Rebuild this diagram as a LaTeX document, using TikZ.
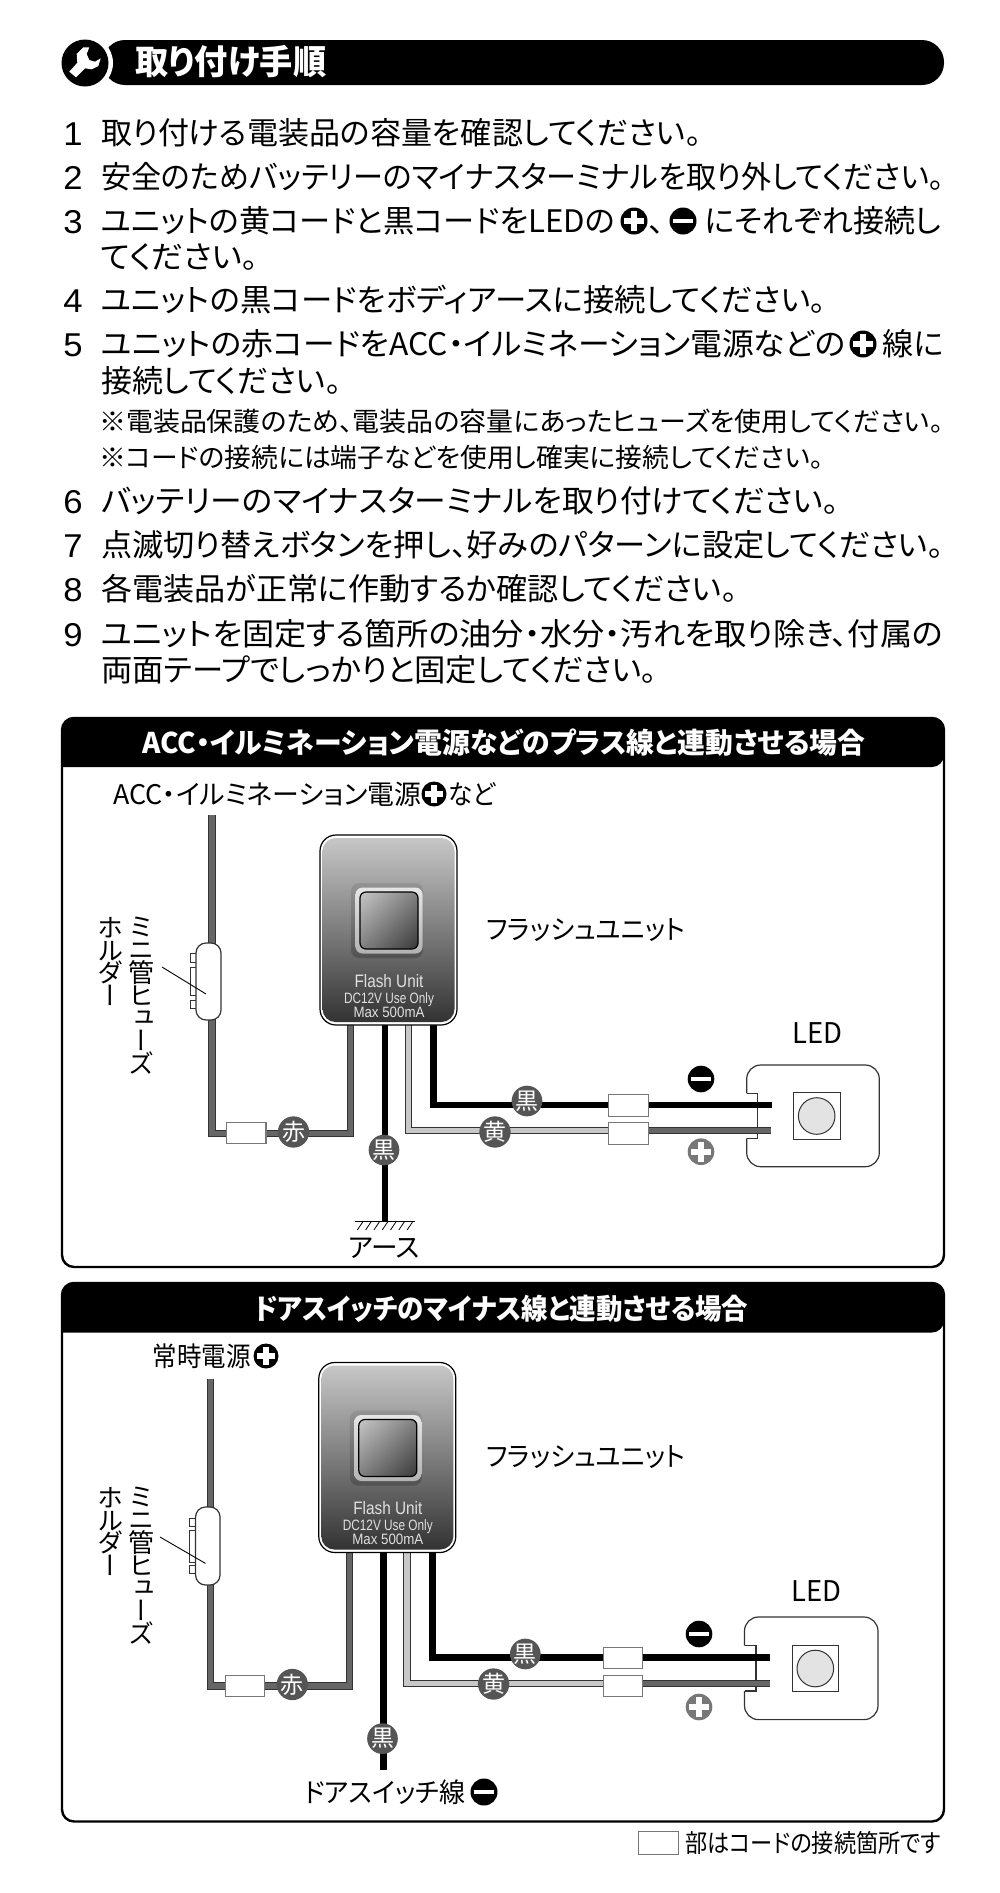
\documentclass[tikz,border=0pt]{standalone}
\usepackage{fontspec}
\usepackage{graphicx}
\usetikzlibrary{shadings}
\setmainfont{Liberation Sans}
\newfontfamily\jp[RawFeature={+palt}]{Noto Sans CJK JP}
\newfontfamily\jpnum{Noto Sans CJK JP}
\newfontfamily\jpv[RawFeature={+vert}]{Noto Sans CJK JP}
\newfontfamily\lat{Liberation Sans}
\definecolor{wiredark}{HTML}{333333}
\definecolor{wiregray}{HTML}{666666}
\definecolor{wirelight}{HTML}{C8C8C8}
\definecolor{tagc}{HTML}{555555}
\definecolor{plusc}{HTML}{777777}
\tikzset{
  txt/.style={inner sep=0pt,anchor=base west,text=black},
  wirered/.style={line width=1pt,draw=wiredark,double=wiregray,double distance=5.6pt},
  wireyel/.style={line width=1pt,draw=wiredark,double=wirelight,double distance=5.6pt},
  wireblk/.style={line width=6.8pt,draw=black},
  joint/.style={draw=plusc,line width=1.2pt,fill=white,inner sep=0pt,minimum width=39.5pt,minimum height=21.5pt},
  tag/.style={circle,fill=tagc,inner sep=0pt,minimum size=30pt,text=white,font=\jpnum\fontsize{23pt}{23pt}\selectfont},
  fuseb/.style={draw=wiredark,line width=1.2pt,fill=white,rounded corners=10pt,inner sep=0pt,minimum width=25pt,minimum height=77pt},
  fusep/.style={draw=wiredark,line width=.8pt,fill=white},
  board/.style={draw=wiredark,line width=1.2pt,fill=white},
  vtxt/.style={inner sep=0pt,anchor=north,align=center,font=\jpv\fontsize{26pt}{22.8pt}\selectfont},
  panel/.style={draw=black,line width=2.4pt,fill=white,rounded corners=12pt},
}
% [style]{name}{left x}{centre y}{width}{size}{text}
\newcommand\lbl[7][]{\node[txt,#1] (#2) at (#3,{#4+0.38*#6}) {\resizebox{#5pt}{\height}{\fontsize{#6pt}{#6pt}\selectfont\jp #7}};}
\newcommand\stepnum[2]{\node[inner sep=0pt,anchor=base] (n#1) at (73,{#2+12}) {\scalebox{1.05}[1]{\fontsize{33pt}{33pt}\selectfont\lat #1}};}
\newcommand\sgnplus[5][black]{%
  \node[circle,fill=#1,inner sep=0pt,minimum size={2*#5*1pt}] (#2) at (#3,#4) {};
  \draw[white,line width={.46*#5*1pt}] ({#3-.74*#5},#4) -- ({#3+.74*#5},#4);
  \draw[white,line width={.46*#5*1pt}] (#3,{#4-.74*#5}) -- (#3,{#4+.74*#5});}
\newcommand\sgnminus[4]{%
  \node[circle,fill=black,inner sep=0pt,minimum size={2*#4*1pt}] (#1) at (#2,#3) {};
  \draw[white,line width={.36*#4*1pt}] ({#2-.74*#4},#3) -- ({#2+.74*#4},#3);}
% flash unit drawn at panel-1 position; {prefix}
\newcommand\flashunit[1]{%
  \draw[draw=black,line width=1.2pt,fill=white,rounded corners=16pt] (320,835) rectangle (457,1025);
  \shade[top color=black!22,bottom color=black!80,rounded corners=13pt] (322.5,838) rectangle (454.5,1022);
  \shade[top color=black!42,bottom color=black!68,rounded corners=8pt] (351,883) rectangle (423,958);
  \shade[top color=black!10,bottom color=black!30,rounded corners=7pt] (355.5,887.5) rectangle (422.5,953.5);
  \shade[upper left=black!22,lower right=black!78,upper right=black!50,lower left=black!50,rounded corners=6pt] (360,892) rectangle (418,949);
  \draw[black,line width=1.2pt,rounded corners=6pt] (360,892) rectangle (418,949);
  \node[inner sep=0pt,anchor=base,text=black!12] (#1-ut1) at (389,987) {\resizebox{69pt}{\height}{\fontsize{18pt}{18pt}\selectfont\lat Flash Unit}};
  \node[inner sep=0pt,anchor=base,text=black!12] (#1-ut2) at (389,1003) {\resizebox{90pt}{\height}{\fontsize{15pt}{15pt}\selectfont\lat DC12V Use Only}};
  \node[inner sep=0pt,anchor=base,text=black!12] (#1-ut3) at (389,1017) {\resizebox{71pt}{\height}{\fontsize{15pt}{15pt}\selectfont\lat Max 500mA}};
}
\begin{document}
\begin{tikzpicture}[x=1pt,y=-1pt]
\useasboundingbox (0,0) rectangle (1000,1893);
\fill[white] (0,0) rectangle (1000,1893);
% title bar
\fill[black,rounded corners=22pt] (103,40) rectangle (944,85);
\fill[white] (85,63) circle (28);
\fill[black] (85,63) circle (23.5);
\fill[white,line join=round] (83.3,47.3) -- (89.3,47.3) -- (86.7,54) -- (89.3,60) -- (95,61.7) -- (100.7,58.3) -- (98.3,66) -- (91.7,69.3) -- (85,68.3) -- (76,77.3) -- (69.3,71.7) -- (77.3,62.7) -- (76.7,54) -- cycle;
\lbl[text=white]{title}{135}{62}{191}{34}{\bfseries 取り付け手順}
% steps
\stepnum{1}{133}
\lbl{l1}{101}{133}{600}{31}{取り付ける電装品の容量を確認してください。}
\stepnum{2}{177}
\lbl{l2}{101}{177}{843}{31}{安全のためバッテリーのマイナスターミナルを取り外してください。}
\stepnum{3}{221}
\lbl{l3a}{101}{221}{514}{31}{ユニットの黄コードと黒コードをLEDの}
\sgnplus{l3p}{634}{221}{13.5}
\lbl{l3b}{649}{221}{16}{31}{、}
\sgnminus{l3m}{683}{221}{13.5}
\lbl{l3c}{705}{221}{236}{31}{にそれぞれ接続し}
\lbl{l3d}{101}{257}{157}{31}{てください。}
\stepnum{4}{300}
\lbl{l4}{101}{300}{725}{31}{ユニットの黒コードをボディアースに接続してください。}
\stepnum{5}{344}
\lbl{l5a}{101}{344}{744}{31}{ユニットの赤コードをACC・イルミネーション電源などの}
\sgnplus{l5p}{863}{344}{13.5}
\lbl{l5b}{882}{344}{61}{31}{線に}
\lbl{l5c}{101}{381}{240}{31}{接続してください。}
\lbl{l5d}{99}{421}{844}{26.5}{※電装品保護のため、電装品の容量にあったヒューズを使用してください。}
\lbl{l5e}{99}{457}{724}{26.5}{※コードの接続には端子などを使用し確実に接続してください。}
\stepnum{6}{501}
\lbl{l6}{101}{501}{738}{31}{バッテリーのマイナスターミナルを取り付けてください。}
\stepnum{7}{545}
\lbl{l7}{101}{545}{842}{31}{点滅切り替えボタンを押し、好みのパターンに設定してください。}
\stepnum{8}{589}
\lbl{l8}{101}{589}{636}{31}{各電装品が正常に作動するか確認してください。}
\stepnum{9}{634}
\lbl{l9a}{101}{634}{842}{31}{ユニットを固定する箇所の油分・水分・汚れを取り除き、付属の}
\lbl{l9b}{101}{670}{556}{31}{両面テープでしっかりと固定してください。}

% ===== panel A =====
\draw[panel] (62,718) rectangle (944,1267);
\fill[black] (62,767) [rounded corners=12pt] -- (62,717) -- (944,717) -- (944,767) [sharp corners] -- cycle;
\lbl[text=white]{a-head}{142}{743}{723}{28.5}{\bfseries ACC・イルミネーション電源などのプラス線と連動させる場合}
\lbl{a-src}{113}{794}{308}{27}{ACC・イルミネーション電源}
\sgnplus{a-srcp}{434}{794}{12.5}
\lbl{a-src2}{448}{794}{47}{27}{など}
\coordinate (a-w0) at (212,815);
\coordinate (a-w1) at (212,1133.5);
\coordinate (a-w2) at (350.5,1133.5);
\coordinate (a-w3) at (350.5,1024);
\draw[wirered] (a-w0) -- (a-w1) -- (a-w2) -- (a-w3);
\coordinate (a-b0) at (385,1024);
\coordinate (a-b1) at (385,1221);
\draw[wireblk] (a-b0) -- (a-b1);
\draw[black,line width=.9pt] (355,1221) -- (415,1221);
\foreach \i in {0,...,6} \draw[black,line width=.8pt] ({357.3+8.3*\i},1230) -- ({362.7+8.3*\i},1222);
\lbl{a-gnd}{348}{1247}{72}{27}{アース}
% LED board
\draw[board,rounded corners=14pt] (746.7,1093.3) -- (746.7,1065) -- (879.3,1065) -- (879.3,1166.7) -- (746.7,1166.7) -- (746.7,1138.3);
\draw[board] (746.7,1093.3) -- (757.3,1093.3) -- (757.3,1138.3) -- (746.7,1138.3);
\node[draw=wiredark,line width=1pt,fill=white,inner sep=0pt,minimum size=46.6pt] (a-ledsq) at (816.7,1116) {};
\node[circle,draw=wiredark,line width=1pt,fill=black!11,inner sep=0pt,minimum size=36.6pt] (a-ledc) at (816.7,1116) {};
\lbl{a-ledt}{792}{1033}{50}{28.5}{LED}
% cords
\coordinate (a-y0) at (408.5,1024);
\coordinate (a-y1) at (408.5,1130.5);
\coordinate (a-y2) at (628,1130.5);
\coordinate (a-y3) at (771,1130.5);
\draw[wirered] (a-y2) -- (a-y3);
\draw[wireyel] (a-y0) -- (a-y1) -- (a-y2);
\coordinate (a-k0) at (433.5,1024);
\coordinate (a-k1) at (433.5,1105);
\coordinate (a-k2) at (771.5,1105);
\draw[wireblk] (a-k0) -- (a-k1) -- (a-k2);
\flashunit{a}
\lbl{a-unit}{486}{929}{199}{27}{フラッシュユニット}
% fuse
\draw[fusep] (190,953) rectangle (196,962);
\draw[fusep] (190,967) rectangle (196,995);
\draw[fusep] (190,1000) rectangle (196,1008);
\node[fuseb] (a-fuse) at (208.5,981.5) {};
\coordinate (a-fl0) at (162,967);
\coordinate (a-fl1) at (206,994);
\draw[black,line width=.9pt] (a-fl0) -- (a-fl1);
\node[vtxt] (a-v1) at (141,917) {ミ\\ニ\\管\\ヒ\\ュ\\ー\\ズ};
\node[vtxt] (a-v2) at (110,917) {ホ\\ル\\ダ\\ー};
% joints and tags
\node[joint] (a-j1) at (246.3,1133) {};
\node[joint] (a-j2) at (628.5,1105.5) {};
\node[joint] (a-j3) at (628.5,1133.5) {};
\node[tag] (a-t1) at (293.5,1132) {赤};
\node[tag] (a-t2) at (384,1150) {黒};
\node[tag] (a-t3) at (495,1132) {黄};
\node[tag] (a-t4) at (527,1101) {黒};
\sgnminus{a-m}{701}{1079}{13.3}
\sgnplus[plusc]{a-p}{701}{1151.7}{13.3}

% ===== panel B =====
\draw[panel] (62,1283) rectangle (944,1821.5);
\fill[black] (62,1332.5) [rounded corners=12pt] -- (62,1282) -- (944,1282) -- (944,1332.5) [sharp corners] -- cycle;
\lbl[text=white]{b-head}{254}{1308.5}{494}{28.5}{\bfseries ドアスイッチのマイナス線と連動させる場合}
\lbl{b-src}{152.7}{1356}{98}{27}{常時電源}
\sgnplus{b-srcp}{266}{1356}{12.5}
\coordinate (b-w0) at (210.5,1378.7);
\coordinate (b-w1) at (210.5,1686);
\coordinate (b-w2) at (349.3,1686);
\coordinate (b-w3) at (349.3,1551);
\draw[wirered] (b-w0) -- (b-w1) -- (b-w2) -- (b-w3);
\coordinate (b-b0) at (383.5,1551);
\coordinate (b-b1) at (383.5,1770);
\draw[wireblk] (b-b0) -- (b-b1);
\lbl{b-door}{304}{1792}{161}{27}{ドアスイッチ線}
\sgnminus{b-doorm}{484}{1792}{13.5}
% LED board
\draw[board,rounded corners=14pt] (744.5,1645.6) -- (744.5,1617) -- (878,1617) -- (878,1719.6) -- (744.5,1719.6) -- (744.5,1691);
\draw[board] (744.5,1645.6) -- (756,1645.6) -- (756,1691) -- (744.5,1691);
\node[draw=wiredark,line width=1pt,fill=white,inner sep=0pt,minimum size=46.6pt] (b-ledsq) at (815.3,1668.5) {};
\node[circle,draw=wiredark,line width=1pt,fill=black!11,inner sep=0pt,minimum size=36.6pt] (b-ledc) at (815.3,1668.5) {};
\lbl{b-ledt}{791.5}{1591}{50}{28.5}{LED}
% cords
\coordinate (b-y0) at (407,1551);
\coordinate (b-y1) at (407,1683.5);
\coordinate (b-y2) at (623,1683.5);
\coordinate (b-y3) at (769.5,1683.5);
\draw[wirered] (b-y2) -- (b-y3);
\draw[wireyel] (b-y0) -- (b-y1) -- (b-y2);
\coordinate (b-k0) at (432.5,1551);
\coordinate (b-k1) at (432.5,1657.5);
\coordinate (b-k2) at (769.5,1657.5);
\draw[wireblk] (b-k0) -- (b-k1) -- (b-k2);
\begin{scope}[shift={(-1.2,527.5)}]\flashunit{b}\end{scope}
\lbl{b-unit}{486}{1456.6}{199}{27}{フラッシュユニット}
% fuse
\draw[fusep] (189.5,1518) rectangle (195.5,1526);
\draw[fusep] (189.5,1530) rectangle (195.5,1562);
\draw[fusep] (189.5,1565) rectangle (195.5,1573);
\node[fuseb,minimum width=24.5pt,minimum height=78pt] (b-fuse) at (207.8,1546) {};
\coordinate (b-fl0) at (160,1537);
\coordinate (b-fl1) at (205.5,1563.4);
\draw[black,line width=.9pt] (b-fl0) -- (b-fl1);
\node[vtxt] (b-v1) at (141,1487) {ミ\\ニ\\管\\ヒ\\ュ\\ー\\ズ};
\node[vtxt] (b-v2) at (110.4,1487) {ホ\\ル\\ダ\\ー};
% joints and tags
\node[joint] (b-j1) at (245,1686) {};
\node[joint] (b-j2) at (623,1658) {};
\node[joint] (b-j3) at (623,1686) {};
\node[tag] (b-t1) at (292.3,1684.5) {赤};
\node[tag] (b-t2) at (382.5,1738.6) {黒};
\node[tag] (b-t3) at (493.6,1684) {黄};
\node[tag] (b-t4) at (525.3,1654) {黒};
\sgnminus{b-m}{699}{1634}{13.3}
\sgnplus[plusc]{b-p}{699}{1707}{13.3}
% legend
\node[draw=plusc,line width=1.2pt,fill=white,inner sep=0pt,minimum width=40pt,minimum height=22.4pt] (leg) at (658.5,1843) {};
\lbl{leg-t}{685.5}{1843}{255.5}{25}{部はコードの接続箇所です}
\end{tikzpicture}
\end{document}
